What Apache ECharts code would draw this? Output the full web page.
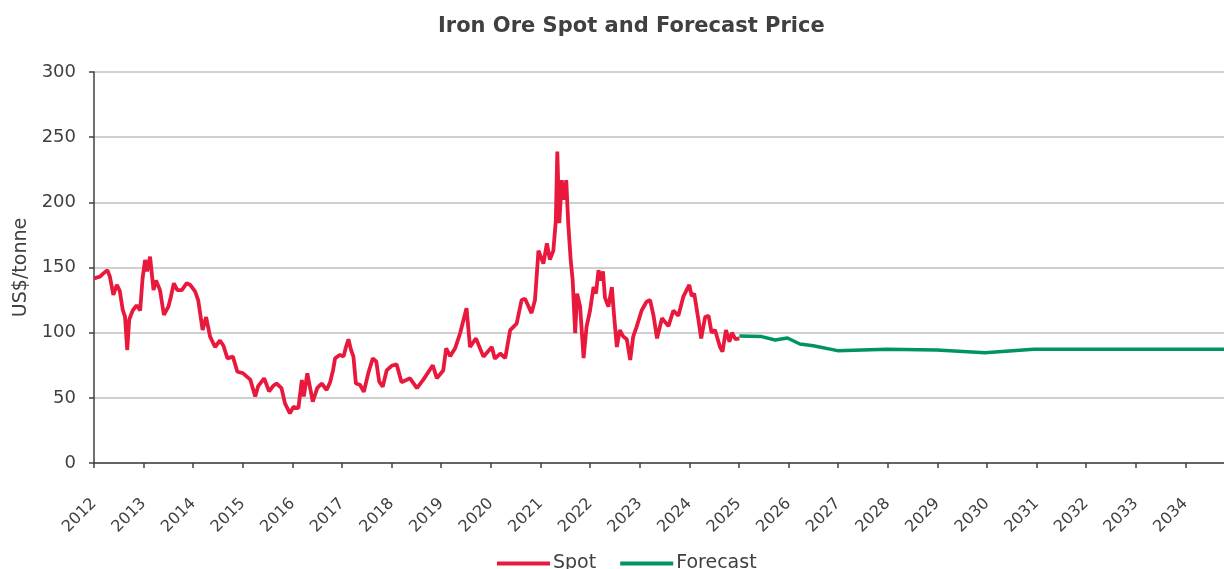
<!DOCTYPE html>
<html>
<head>
<meta charset="utf-8">
<script src="https://cdn.jsdelivr.net/npm/echarts@6/dist/echarts.min.js"></script>
<style>
  html, body { margin: 0; padding: 0; background: #fff; }
  #main { width: 1224px; height: 569px; }
</style>
</head>
<body>
<div id="main"></div>
<script>
// decimal years
const spotYears = [
  2012.00, 2012.12, 2012.19, 2012.27, 2012.32, 2012.39, 2012.46, 2012.52, 2012.58, 2012.625,
  2012.67, 2012.71, 2012.78, 2012.86, 2012.93, 2012.98, 2013.03, 2013.07, 2013.13, 2013.20,
  2013.25, 2013.33, 2013.41, 2013.50, 2013.55, 2013.61, 2013.68, 2013.77, 2013.87, 2013.94,
  2014.04, 2014.10, 2014.19, 2014.26, 2014.34, 2014.44, 2014.54, 2014.61, 2014.69, 2014.80,
  2014.89, 2015.00, 2015.15, 2015.25, 2015.31, 2015.43, 2015.53, 2015.61, 2015.68, 2015.78,
  2015.85, 2015.95, 2016.02, 2016.12, 2016.19, 2016.23, 2016.30, 2016.35, 2016.41, 2016.50,
  2016.59, 2016.69, 2016.76, 2016.82, 2016.86, 2016.96, 2017.03, 2017.08, 2017.13, 2017.18,
  2017.23, 2017.28, 2017.36, 2017.44, 2017.53, 2017.62, 2017.69, 2017.75, 2017.82, 2017.90,
  2018.00, 2018.10, 2018.20, 2018.37, 2018.51, 2018.64, 2018.83, 2018.91, 2019.04, 2019.10,
  2019.18, 2019.28, 2019.38, 2019.51, 2019.58, 2019.70, 2019.85, 2020.02, 2020.08, 2020.19,
  2020.29, 2020.39, 2020.52, 2020.62, 2020.69, 2020.82, 2020.89, 2020.96, 2021.06, 2021.13,
  2021.19, 2021.26, 2021.31, 2021.34, 2021.38, 2021.43, 2021.46, 2021.52, 2021.56, 2021.61,
  2021.65, 2021.70, 2021.74, 2021.80, 2021.87, 2021.93, 2022.00, 2022.07, 2022.12, 2022.17,
  2022.22, 2022.26, 2022.30, 2022.37, 2022.44, 2022.48, 2022.54, 2022.60, 2022.67, 2022.74,
  2022.81, 2022.87, 2022.94, 2023.04, 2023.14, 2023.21, 2023.28, 2023.35, 2023.45, 2023.58,
  2023.68, 2023.78, 2023.88, 2024.00, 2024.05, 2024.10, 2024.18, 2024.24, 2024.32, 2024.39,
  2024.45, 2024.52, 2024.62, 2024.67, 2024.74, 2024.81, 2024.86, 2024.93, 2025.01,
];
const spotValues = [
  141.7, 143, 145.5, 148, 143, 129, 136.6, 132, 117.4, 112.3,
  86.7, 110, 117, 121, 117, 142, 155.8, 147, 158.3, 132.7,
  140, 132.7, 113.6, 120, 127.6, 137.9, 132.7, 132.7, 138, 136.6,
  131.5, 125, 102, 112, 97, 89, 94, 90, 80.3, 81.6,
  70, 69, 64, 51, 59, 65, 55, 59, 61, 57.5,
  45.8, 38.1, 43, 42, 63.7, 51, 68.8, 59, 47, 57.5,
  61, 56, 62, 71.4, 80.3, 83, 81.6, 89, 94.9, 87,
  81.6, 61, 60, 54.7, 69, 80.3, 78, 62.4, 58.5, 71,
  74.6, 75.8, 62, 65, 57.5, 64, 75, 65, 71, 88,
  82, 88, 99.5, 118.7, 89, 95.6, 81.6, 89, 80, 84,
  80.5, 102, 107, 125, 126, 115, 125, 163, 153, 168.6,
  156, 163, 186, 239, 184, 217, 202, 217, 184, 155.7,
  140, 99.7, 130, 120, 80.5, 104.6, 117, 135, 130, 148,
  140, 147, 127, 120, 135, 115, 89, 102, 97, 95,
  79, 97, 104.6, 117, 123.8, 125, 113, 95.6, 111, 105,
  117, 113, 127.6, 136.6, 128, 130, 111, 95.6, 112, 113,
  100, 102, 89, 85.4, 102, 93, 100, 95, 95.6,
];
const forecastYears = [2025.01, 2025.46, 2025.73, 2025.98, 2026.23, 2026.50, 2026.99, 2027.98, 2028.99, 2029.96, 2030.94, 2031.94, 2032.94, 2033.94, 2034.94];
const forecastValues = [97.5, 97, 94.4, 95.9, 91.3, 90, 86.2, 87.2, 86.7, 84.6, 87.2, 87.2, 87.2, 87.2, 87.2];

const font = 'DejaVu Sans';
const textColor = '#404040';

const chart = echarts.init(document.getElementById('main'));

chart.setOption({
  animation: false,
  textStyle: { fontFamily: font, color: textColor },
  title: {
    text: 'Iron Ore Spot and Forecast Price',
    left: 433,
    top: 11,
    textStyle: { fontFamily: font, fontSize: 21, fontWeight: 'bold', color: textColor },
  },
  legend: {
    bottom: -9,
    left: 492,
    itemWidth: 53,
    itemHeight: 4,
    itemGap: 24,
    icon: 'rect',
    textStyle: { fontFamily: font, fontSize: 19, color: textColor, padding: [0, 0, 0, -2] },
    data: ['Spot', 'Forecast'],
  },
  grid: {
    left: 94,
    right: 0,
    top: 72,
    bottom: 106,
  },
  xAxis: {
    type: 'value',
    min: 2012,
    max: 2034.78,
    interval: 1,
    splitLine: { show: false },
    axisLine: { lineStyle: { color: '#404040', width: 1.5 } },
    axisTick: { length: 5, lineStyle: { color: '#404040', width: 1.5 } },
    axisLabel: {
      rotate: 45,
      margin: 38,
      fontSize: 16,
      color: textColor,
      showMaxLabel: false,
      formatter: (v) => (Number.isInteger(v) ? String(v) : ''),
    },
  },
  yAxis: {
    type: 'value',
    min: 0,
    max: 300,
    interval: 50,
    name: 'US$/tonne',
    nameLocation: 'middle',
    nameGap: 62,
    nameTextStyle: { fontFamily: font, fontSize: 19, color: textColor },
    axisLine: { show: true, lineStyle: { color: '#404040', width: 1.5 } },
    axisTick: { show: true, length: 5, lineStyle: { color: '#404040', width: 1.5 } },
    axisLabel: { fontSize: 18, margin: 18, color: textColor },
    splitLine: { lineStyle: { color: '#d0d0d0', width: 2 } },
  },
  series: [
    {
      name: 'Spot',
      type: 'line',
      showSymbol: false,
      color: '#e8193c',
      lineStyle: { width: 3.8, color: '#e8193c' },
      data: spotYears.map((y, i) => [y, spotValues[i]]),
    },
    {
      name: 'Forecast',
      type: 'line',
      showSymbol: false,
      color: '#009460',
      lineStyle: { width: 3.5, color: '#009460' },
      data: forecastYears.map((y, i) => [y, forecastValues[i]]),
    },
  ],
});
</script>
</body>
</html>
